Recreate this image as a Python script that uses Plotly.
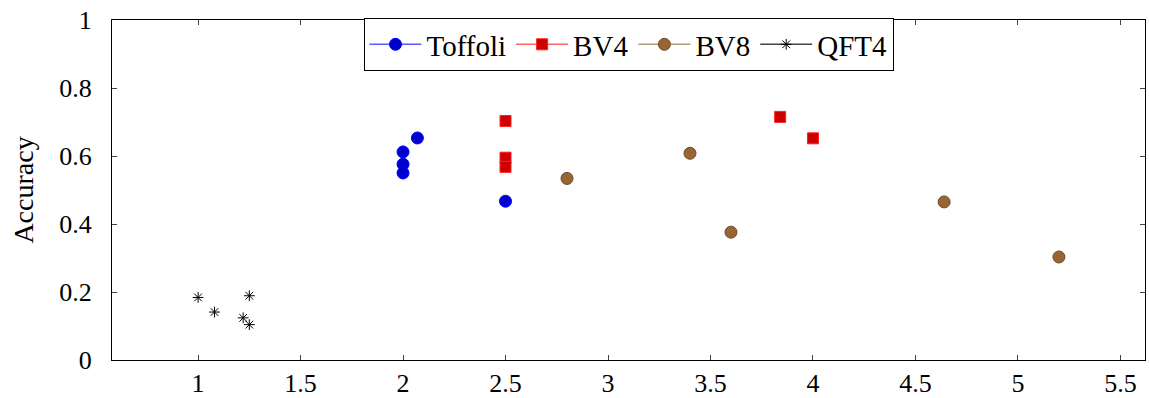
import plotly.graph_objects as go

toffoli_x = [2.0, 2.0, 2.0, 2.07, 2.5]
toffoli_y = [0.612, 0.576, 0.55, 0.653, 0.467]
bv4_x = [2.5, 2.5, 2.5, 3.84, 4.0]
bv4_y = [0.703, 0.595, 0.568, 0.715, 0.652]
bv8_x = [2.8, 3.4, 3.6, 4.64, 5.2]
bv8_y = [0.534, 0.608, 0.376, 0.465, 0.303]
qft4_x = [1.0, 1.08, 1.25, 1.22, 1.25]
qft4_y = [0.184, 0.141, 0.189, 0.124, 0.104]

x_ticks = [1, 1.5, 2, 2.5, 3, 3.5, 4, 4.5, 5, 5.5]
y_ticks = [0, 0.2, 0.4, 0.6, 0.8, 1]

SERIF = "Liberation Serif, DejaVu Serif, serif"

series = [
    ("Toffoli", toffoli_x, toffoli_y, "circle", 12, "#0000cc", "#0000ff", "rgba(90,90,255,1)", 1),
    ("BV4", bv4_x, bv4_y, "square", 11, "#cc0000", "#ff2020", "rgba(255,100,100,1)", 1),
    ("BV8", bv8_x, bv8_y, "circle", 12, "#996633", "#6b4a2a", "rgba(180,150,120,1)", 1),
    ("QFT4", qft4_x, qft4_y, "asterisk-open", 9, "#000000", "#000000", "rgba(70,70,70,1)", 1),
]

fig = go.Figure()
for name, xs, ys, sym, sz, fill, edge, lcol, lw in series:
    fig.add_trace(go.Scatter(
        x=xs, y=ys, mode="markers", name=name, showlegend=False,
        marker=dict(symbol=sym, size=sz, color=fill,
                    line=dict(color=edge, width=lw))))
    fig.add_trace(go.Scatter(
        x=[None], y=[None], mode="lines+markers", name=name,
        line=dict(color=lcol, width=1.5),
        marker=dict(symbol=sym, size=sz, color=fill,
                    line=dict(color=edge, width=lw))))

axis_common = dict(
    showgrid=False, zeroline=False, showline=True, linecolor="black",
    linewidth=1, mirror="ticks", ticks="inside", ticklen=5, tickcolor="#444",
    ticklabeloverflow="allow",
    tickfont=dict(family=SERIF, size=26, color="black"),
)

fig.update_xaxes(range=[0.58, 5.62], tickvals=x_ticks,
                 ticktext=[str(v) for v in x_ticks], ticklabelstandoff=0,
                 **axis_common)
fig.update_yaxes(range=[0, 1], tickvals=y_ticks,
                 ticktext=[("%g" % v) for v in y_ticks], ticklabelstandoff=14,
                 title=dict(text="Accuracy", standoff=17,
                            font=dict(family=SERIF, size=28, color="black")),
                 **axis_common)

fig.update_layout(
    width=1149, height=398,
    margin=dict(l=112, r=4, t=20, b=38, autoexpand=False),
    plot_bgcolor="white", paper_bgcolor="white",
    font=dict(family=SERIF, color="black"),
    legend=dict(orientation="h", x=0.5, xanchor="center", y=1.006, yanchor="top",
                bordercolor="black", borderwidth=1, bgcolor="white",
                font=dict(family=SERIF, size=29, color="black"),
                itemwidth=52, tracegroupgap=0),
)

fig.write_html("out.html", config={"displayModeBar": False},
               post_script="document.body.style.margin='0';document.body.style.padding='0';")
